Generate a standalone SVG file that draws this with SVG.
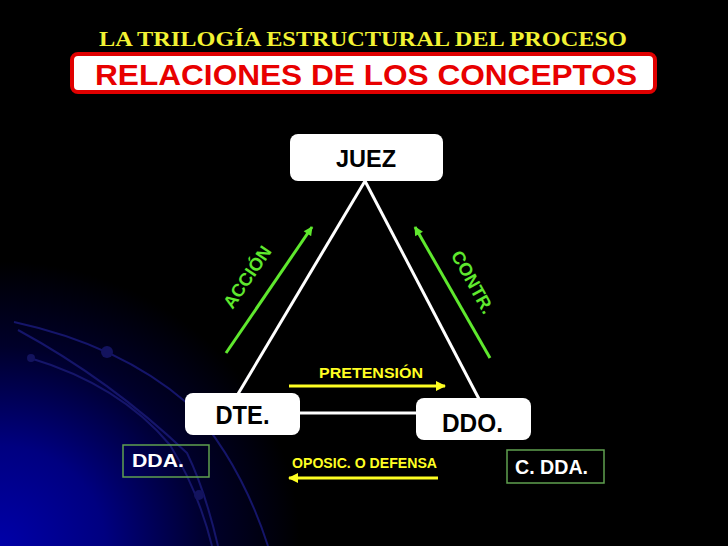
<svg xmlns="http://www.w3.org/2000/svg" width="728" height="546" viewBox="0 0 728 546">
<defs>
<radialGradient id="glow" cx="0" cy="546" r="300" gradientUnits="userSpaceOnUse" gradientTransform="translate(0,546) scale(1,0.95) translate(0,-546)">
<stop offset="0" stop-color="#0000a8"/>
<stop offset="0.35" stop-color="#000080"/>
<stop offset="0.7" stop-color="#00002a"/>
<stop offset="1" stop-color="#000000"/>
</radialGradient>
<marker id="ahG" viewBox="0 0 10 10" refX="9" refY="5" markerWidth="10" markerHeight="9" markerUnits="userSpaceOnUse" orient="auto">
<path d="M0,0 L10,5 L0,10 Z" fill="#5fe82e"/>
</marker>
<marker id="ahY" viewBox="0 0 10 10" refX="9" refY="5" markerWidth="11" markerHeight="10" markerUnits="userSpaceOnUse" orient="auto">
<path d="M0,0 L10,5 L0,10 Z" fill="#ffff22"/>
</marker>
</defs>
<style>
.node{fill:#ffffff}
.ntext{font-family:"Liberation Sans",Arial,sans-serif;font-weight:bold;fill:#000000;text-anchor:middle}
.edge{stroke:#ffffff;stroke-width:3;fill:none}
.green{stroke:#5fe82e;stroke-width:3;fill:none}
.yellow{stroke:#ffff22;stroke-width:3;fill:none}
.gtext{font-family:"Liberation Sans",Arial,sans-serif;font-weight:bold;fill:#5fe82e;font-size:18px;text-anchor:middle}
.ytext{font-family:"Liberation Sans",Arial,sans-serif;font-weight:bold;fill:#ffff22;font-size:14px}
.box{fill:none;stroke:#5fa04f;stroke-width:1.5}
.wtext{font-family:"Liberation Sans",Arial,sans-serif;font-weight:bold;fill:#ffffff}
.arc{stroke:#15156a;stroke-width:2;fill:none}
.dot{fill:#13135e}
</style>
<rect width="728" height="546" fill="#000000"/>
<rect width="728" height="546" fill="url(#glow)"/>
<g id="background-arcs">
<path class="arc" d="M14,322 Q120,345 187,403 Q240,460 268,546"/>
<path class="arc" d="M18,330 Q110,380 187,453 Q205,490 218,546"/>
<path class="arc" d="M30,358 Q120,385 170,445 Q198,490 212,546"/>
<circle class="dot" cx="107" cy="352" r="6"/>
<circle class="dot" cx="31" cy="358" r="4"/>
<circle class="dot" cx="199" cy="495" r="5"/>
</g>
<g id="title">
<text x="99" y="46" font-family="'Liberation Serif','Times New Roman',serif" font-weight="bold" font-size="21" fill="#f2f233" textLength="528" lengthAdjust="spacingAndGlyphs">LA TRILOGÍA ESTRUCTURAL DEL PROCESO</text>
</g>
<g id="subtitle">
<rect x="72" y="54" width="583" height="38" rx="6" fill="#ffffff" stroke="#e00000" stroke-width="4"/>
<text x="95" y="85" font-family="'Liberation Sans',Arial,sans-serif" font-weight="bold" font-size="30" fill="#e80000" textLength="542" lengthAdjust="spacingAndGlyphs">RELACIONES DE LOS CONCEPTOS</text>
</g>
<g id="connectors">
<line class="edge" x1="365" y1="181" x2="238" y2="394"/>
<line class="edge" x1="365" y1="181" x2="479" y2="399"/>
<line class="edge" x1="300" y1="413" x2="416" y2="413"/>
<line class="green" x1="226" y1="353" x2="312" y2="227" marker-end="url(#ahG)"/>
<line class="green" x1="490" y1="358" x2="415" y2="227" marker-end="url(#ahG)"/>
<line class="yellow" x1="289" y1="386" x2="445" y2="386" marker-end="url(#ahY)"/>
<line class="yellow" x1="438" y1="478" x2="289" y2="478" marker-end="url(#ahY)"/>
<text class="gtext" transform="translate(247,277) rotate(-56)" x="0" y="6.5">ACCIÓN</text>
<text class="gtext" transform="translate(473,282) rotate(61)" x="0" y="6.5">CONTR.</text>
<text class="ytext" x="319" y="378" textLength="104" lengthAdjust="spacingAndGlyphs">PRETENSIÓN</text>
<text class="ytext" x="292" y="468" textLength="145" lengthAdjust="spacingAndGlyphs">OPOSIC. O DEFENSA</text>
</g>
<g id="juez">
<rect class="node" x="290" y="134" width="153" height="47" rx="8"/>
<text class="ntext" x="366" y="167" font-size="23.5">JUEZ</text>
</g>
<g id="dte">
<rect class="node" x="185" y="393" width="115" height="42" rx="8"/>
<text class="ntext" x="242.5" y="424" font-size="26" textLength="54" lengthAdjust="spacingAndGlyphs">DTE.</text>
</g>
<g id="ddo">
<rect class="node" x="416" y="398" width="115" height="42" rx="8"/>
<text class="ntext" x="472.5" y="432" font-size="26" textLength="61" lengthAdjust="spacingAndGlyphs">DDO.</text>
</g>
<g id="dda">
<rect class="box" x="123" y="445" width="86" height="32"/>
<text class="wtext" x="132" y="467" font-size="19" textLength="52" lengthAdjust="spacingAndGlyphs">DDA.</text>
</g>
<g id="cdda">
<rect class="box" x="507" y="450" width="97" height="33"/>
<text class="wtext" x="515" y="474" font-size="19.5" textLength="73" lengthAdjust="spacingAndGlyphs">C. DDA.</text>
</g>
</svg>
